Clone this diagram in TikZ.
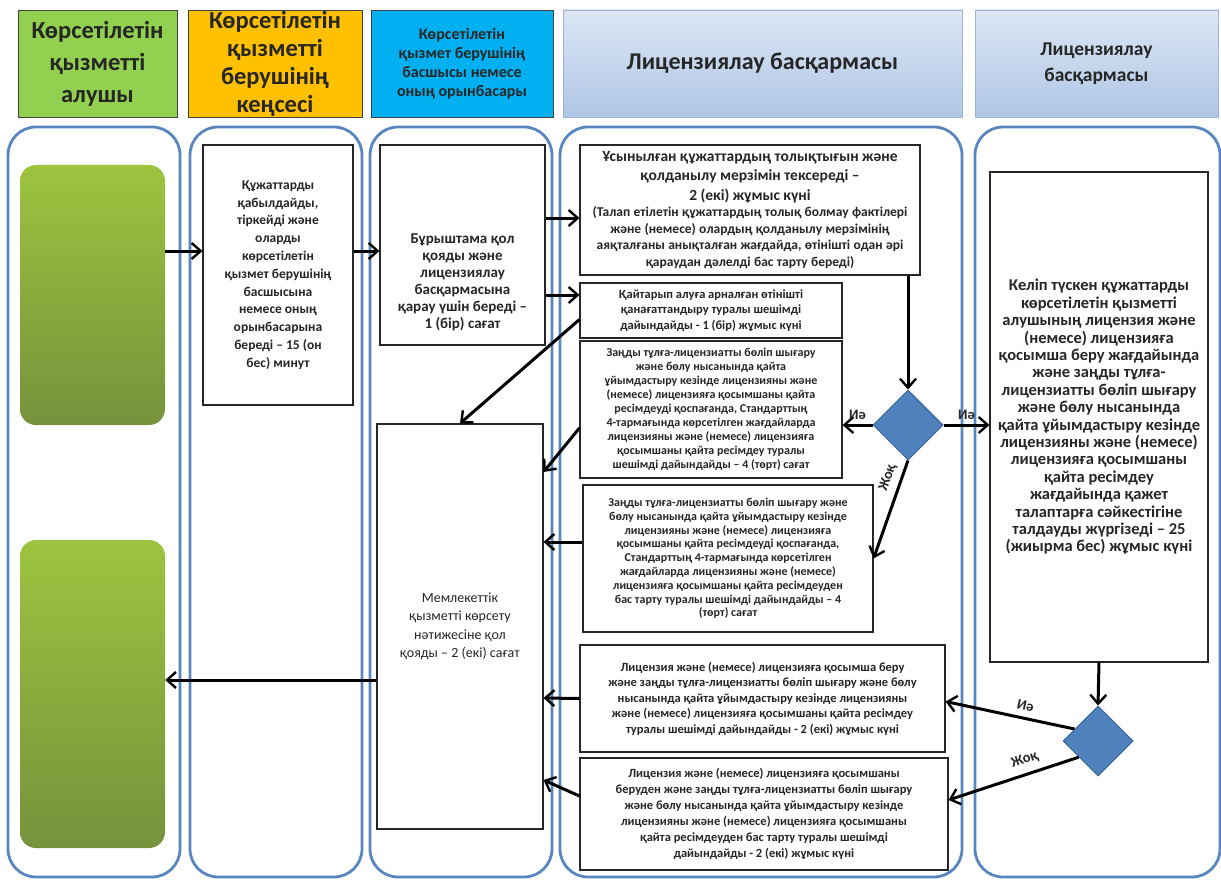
\documentclass[tikz,border=0pt]{standalone}
\usepackage{fontspec}
\setmainfont{Carlito}
\usetikzlibrary{shapes.geometric, arrows.meta, calc}
\definecolor{laneblue}{HTML}{5A86C0}
\definecolor{hgreen}{HTML}{92D050}
\definecolor{horange}{HTML}{FFC000}
\definecolor{hblue}{HTML}{00B0F0}
\definecolor{headtop}{HTML}{DCE6F4}
\definecolor{headbot}{HTML}{AFC6E6}
\definecolor{headedge}{HTML}{9DB5D6}
\definecolor{greentop}{HTML}{9DC43F}
\definecolor{greenbot}{HTML}{76923C}
\definecolor{decblue}{HTML}{4F81BD}
\definecolor{decedge}{HTML}{3A6599}
\definecolor{ink}{HTML}{262626}

\begin{document}
\begin{tikzpicture}[x=1pt,y=-1pt,
    lane/.style={draw=laneblue, line width=2.8pt, rounded corners=28pt},
    head/.style={draw=black!75, line width=0.7pt, inner sep=0pt, align=center, text=ink},
    lichead/.style={draw=headedge, line width=0.7pt, top color=headtop, bottom color=headbot, inner sep=0pt, align=center, text=ink},
    box/.style={draw=black!85, fill=white, line width=1.1pt, inner sep=0pt, align=center, text=ink},
    client/.style={rounded corners=16pt, top color=greentop, bottom color=greenbot, inner sep=0pt},
    choice/.style={diamond, aspect=1, fill=decblue, draw=decedge, line width=1pt, minimum size=70pt, inner sep=0pt},
    arr/.style={line width=3pt, -{Straight Barb[length=9pt,width=16pt,line width=2.4pt]}},
    tag/.style={font=\bfseries\fontsize{14.5}{14.5}\selectfont, text=ink, inner sep=1pt}
  ]
  \useasboundingbox (0,0) rectangle (1221,880);
  \fill[white] (0,0) rectangle (1221,880);

  % swim lanes
  \draw[lane] (8,127) rectangle (180,877);
  \draw[lane] (190,127) rectangle (362,877);
  \draw[lane] (370,127) rectangle (552,877);
  \draw[lane] (560,127) rectangle (962,877);
  \draw[lane] (975,127) rectangle (1220,877);

  % headers
  \node[head, fill=hgreen, minimum width=159pt, minimum height=107pt,
        font=\bfseries\fontsize{24.5}{32}\selectfont] (hrecv) at (97.5,63.5)
        {Көрсетілетін\\қызметті\\алушы};
  \node[head, fill=horange, minimum width=174pt, minimum height=107pt,
        font=\bfseries\fontsize{24.5}{28}\selectfont] (hoffice) at (275,63.5)
        {Көрсетілетін\\қызметті\\берушінің\\кеңсесі};
  \node[head, fill=hblue, minimum width=182pt, minimum height=107pt,
        font=\bfseries\fontsize{16}{19}\selectfont] (hchief) at (462,63.5)
        {Көрсетілетін\\қызмет берушінің\\басшысы немесе\\оның орынбасары};
  \node[lichead, minimum width=399pt, minimum height=107pt,
        font=\bfseries\fontsize{24}{28}\selectfont] (hlic) at (762.5,63.5)
        {Лицензиялау басқармасы};
  \node[lichead, minimum width=243pt, minimum height=107pt,
        font=\bfseries\fontsize{19.5}{26}\selectfont] (hlic2) at (1096.5,63.5)
        {Лицензиялау\\басқармасы};

  % recipient
  \node[client, minimum width=145pt, minimum height=260pt] (recv) at (92.5,295) {};
  \node[client, minimum width=145pt, minimum height=308pt] (res) at (92.5,694) {};

  % office, chief
  \node[box, minimum width=150pt, minimum height=260pt,
        font=\bfseries\fontsize{13.5}{17.8}\selectfont] (accept) at (278,275)
        {Құжаттарды\\қабылдайды,\\тіркейді және\\оларды\\көрсетілетін\\қызмет берушінің\\басшысына\\немесе оның\\орынбасарына\\береді – 15 (он\\бес) минут};
  \node[box, minimum width=165pt, minimum height=200pt] (visa) at (462.5,245) {};
  \node[align=center, text=ink, inner sep=0pt,
        font=\bfseries\fontsize{15}{17}\selectfont] (visatxt) at ([yshift=-37pt]visa.center)
        {Бұрыштама қол\\қояды және\\лицензиялау\\басқармасына\\қарау үшін береді –\\1 (бір) сағат};
  \node[box, minimum width=166pt, minimum height=405pt,
        font=\fontsize{14}{18.5}\selectfont] (sign) at (460,626.5)
        {Мемлекеттік\\қызметті көрсету\\нәтижесіне қол\\қояды – 2 (екі) сағат};

  % licensing department
  \node[box, minimum width=340pt, minimum height=130pt, text width=338pt] (check) at (750,210)
        {{\bfseries\fontsize{15.5}{19.5}\selectfont Ұсынылған құжаттардың толықтығын және\\қолданылу мерзімін тексереді –\\2 (екі) жұмыс күні\par}
         {\bfseries\fontsize{13.5}{16.5}\selectfont (Талап етілетін құжаттардың толық болмау фактілері\\және (немесе) олардың қолданылу мерзімінің\\аяқталғаны анықталған жағдайда, өтінішті одан әрі\\қараудан дәлелді бас тарту береді)\par}};
  \node[box, minimum width=262pt, minimum height=55pt,
        font=\bfseries\fontsize{12.5}{15.5}\selectfont] (recall) at (711,310.5)
        {Қайтарып алуға арналған өтінішті\\қанағаттандыру туралы шешімді\\дайындайды - 1 (бір) жұмыс күні};
  \node[box, minimum width=262pt, minimum height=137pt,
        font=\bfseries\fontsize{12}{14}\selectfont] (reissue) at (711,409.5)
        {Заңды тұлға-лицензиатты бөліп шығару\\және бөлу нысанында қайта\\ұйымдастыру кезінде лицензияны және\\(немесе) лицензияға қосымшаны қайта\\ресімдеуді қоспағанда, Стандарттың\\4-тармағында көрсетілген жағдайларда\\лицензияны және (немесе) лицензияға\\қосымшаны қайта ресімдеу туралы\\шешімді дайындайды – 4 (төрт) сағат};
  \node[choice] (dec1) at (908,425) {};
  \node[box, minimum width=290pt, minimum height=147pt,
        font=\bfseries\fontsize{12}{13.8}\selectfont] (refuse) at (728,558.5)
        {Заңды тұлға-лицензиатты бөліп шығару және\\бөлу нысанында қайта ұйымдастыру кезінде\\лицензияны және (немесе) лицензияға\\қосымшаны қайта ресімдеуді қоспағанда,\\Стандарттың 4-тармағында көрсетілген\\жағдайларда лицензияны және (немесе)\\лицензияға қосымшаны қайта ресімдеуден\\бас тарту туралы шешімді дайындайды – 4\\(төрт) сағат};
  \node[box, minimum width=365pt, minimum height=107pt,
        font=\bfseries\fontsize{12.5}{15.5}\selectfont] (grant) at (762.5,698.5)
        {Лицензия және (немесе) лицензияға қосымша беру\\және заңды тұлға-лицензиатты бөліп шығару және бөлу\\нысанында қайта ұйымдастыру кезінде лицензияны\\және (немесе) лицензияға қосымшаны қайта ресімдеу\\туралы шешімді дайындайды - 2 (екі) жұмыс күні};
  \node[box, minimum width=368pt, minimum height=112pt,
        font=\bfseries\fontsize{12.5}{16}\selectfont] (deny) at (764,814)
        {Лицензия және (немесе) лицензияға қосымшаны\\беруден және заңды тұлға-лицензиатты бөліп шығару\\және бөлу нысанында қайта ұйымдастыру кезінде\\лицензияны және (немесе) лицензияға қосымшаны\\қайта ресімдеуден бас тарту туралы шешімді\\дайындайды - 2 (екі) жұмыс күні};

  % second licensing lane
  \node[box, minimum width=218pt, minimum height=490pt,
        font=\bfseries\fontsize{16.5}{17.4}\selectfont] (analyse) at (1099,417)
        {Келіп түскен құжаттарды\\көрсетілетін қызметті\\алушының лицензия және\\(немесе) лицензияға\\қосымша беру жағдайында\\және заңды тұлға-\\лицензиатты бөліп шығару\\және бөлу нысанында\\қайта ұйымдастыру кезінде\\лицензияны және (немесе)\\лицензияға қосымшаны\\қайта ресімдеу\\жағдайында қажет\\талаптарға сәйкестігіне\\талдауды жүргізеді – 25\\(жиырма бес) жұмыс күні};
  \node[choice] (dec2) at (1098,741) {};

  % flow
  \draw[arr] ([yshift=44pt]recv.east) -- ([yshift=24pt]accept.west);
  \draw[arr] ([yshift=24pt]accept.east) -- ([yshift=-6pt]visa.west);
  \draw[arr] ([yshift=27pt]visa.east) -- ([yshift=-8pt]check.west);
  \draw[arr] ([yshift=-50pt]visa.east) -- ([yshift=15.5pt]recall.west);
  \draw[arr] ([yshift=-9pt]recall.west) -- (sign.north);
  \draw[arr] ([yshift=-18.5pt]reissue.west) -- ([yshift=154.5pt]sign.east);
  \draw[arr] ([yshift=16.5pt]refuse.west) -- ([yshift=84.5pt]sign.east);
  \draw[arr] (grant.west) -- ([yshift=-71.5pt]sign.east);
  \draw[arr] ([yshift=18pt]deny.west) -- ([yshift=-153.5pt]sign.east);
  \draw[arr] ([yshift=-53.5pt]sign.west) -- ([yshift=14pt]res.east);
  \draw[arr] (check.south -| dec1.north) -- (dec1.north);
  \draw[arr] (dec1.west) -- (reissue.east |- dec1.west) node[tag, midway, above=3pt] {Иә};
  \draw[arr] (dec1.east) -- (analyse.west |- dec1.east) node[tag, midway, above=3pt] {Иә};
  \draw[arr] (dec1.south) -- (refuse.east) node[tag, pos=0.22, sloped, above=5pt] {Жоқ};
  \draw[arr] (analyse.south) -- (dec2.north);
  \draw[arr] (dec2.153) -- ([yshift=-3pt]grant.east) node[tag, pos=0.4, sloped, above=5pt] {Иә};
  \draw[arr] (dec2.220) -- ([yshift=14pt]deny.east) node[tag, pos=0.38, sloped, above=6pt] {Жоқ};
\end{tikzpicture}
\end{document}
